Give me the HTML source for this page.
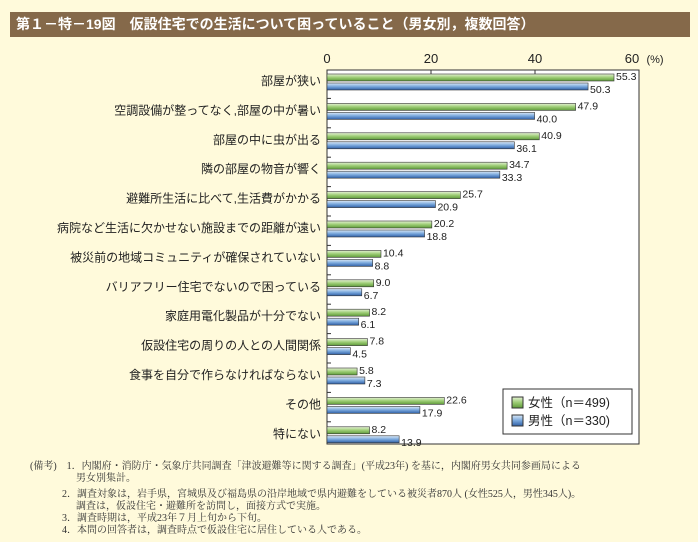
<!DOCTYPE html><html><head><meta charset="utf-8"><style>
body{margin:0;width:698px;height:542px;background:#fffadb;font-family:"Liberation Sans","Noto Sans CJK JP",sans-serif;position:relative;overflow:hidden}
.hd{position:absolute;left:10px;top:12px;width:680px;height:25px;background:#85694a;color:#fff;font-size:14px;font-weight:bold;line-height:25px;text-indent:6px}
.n{position:absolute;left:30px;font-size:10px;color:#333;white-space:nowrap;font-family:"Liberation Serif","Noto Serif CJK SC",serif}
</style></head><body>
<div class="hd">第１－特－19図　仮設住宅での生活について困っていること（男女別，複数回答）</div>
<svg width="698" height="542" style="position:absolute;left:0;top:0">
<defs>
<linearGradient id="g" x1="0" y1="0" x2="0" y2="1"><stop offset="0" stop-color="#e6f3d6"/><stop offset=".5" stop-color="#9ccc74"/><stop offset="1" stop-color="#5e9a3a"/></linearGradient>
<linearGradient id="b" x1="0" y1="0" x2="0" y2="1"><stop offset="0" stop-color="#dceaf8"/><stop offset=".5" stop-color="#7aa8dc"/><stop offset="1" stop-color="#2f5fa6"/></linearGradient>
</defs>
<rect x="327" y="70" width="312" height="374" fill="#fff" stroke="#333" stroke-width="1"/>
<g font-size="13" fill="#222" text-anchor="middle"><text x="327" y="63">0</text><text x="431" y="63">20</text><text x="535" y="63">40</text><text x="632" y="63">60</text><text x="655" y="63" font-size="11">(%)</text></g>
<g stroke="#333"><line x1="431" y1="70" x2="431" y2="74"/><line x1="535" y1="70" x2="535" y2="74"/></g>
<g id="bars" font-size="10.5" fill="#222"></g>
<rect x="503" y="389" width="129" height="45" fill="#fff" stroke="#333"/>
<rect x="512" y="397" width="11" height="11" fill="url(#g)" stroke="#333"/>
<rect x="512" y="415" width="11" height="11" fill="url(#b)" stroke="#333"/>
<g font-size="12.5" fill="#222"><text x="528" y="407">女性（n＝499)</text><text x="528" y="425">男性（n＝330)</text></g>
</svg>
<div class="n" style="top:457px">(備考)　1．内閣府・消防庁・気象庁共同調査「津波避難等に関する調査」(平成23年) を基に，内閣府男女共同参画局による</div>
<div class="n" style="top:469px;left:76px">男女別集計。</div>
<div class="n" style="top:485px;left:62px">2．調査対象は，岩手県，宮城県及び福島県の沿岸地域で県内避難をしている被災者870人 (女性525人，男性345人)。</div>
<div class="n" style="top:497px;left:76px">調査は，仮設住宅・避難所を訪問し，面接方式で実施。</div>
<div class="n" style="top:509px;left:62px">3．調査時期は，平成23年７月上旬から下旬。</div>
<div class="n" style="top:521px;left:62px">4．本問の回答者は，調査時点で仮設住宅に居住している人である。</div>
<script>
var d=[["部屋が狭い",55.3,50.3],["空調設備が整ってなく,部屋の中が暑い",47.9,40.0],["部屋の中に虫が出る",40.9,36.1],["隣の部屋の物音が響く",34.7,33.3],["避難所生活に比べて,生活費がかかる",25.7,20.9],["病院など生活に欠かせない施設までの距離が遠い",20.2,18.8],["被災前の地域コミュニティが確保されていない",10.4,8.8],["バリアフリー住宅でないので困っている",9.0,6.7],["家庭用電化製品が十分でない",8.2,6.1],["仮設住宅の周りの人との人間関係",7.8,4.5],["食事を自分で作らなければならない",5.8,7.3],["その他",22.6,17.9],["特にない",8.2,13.9]];
var s="",k=5.19;
d.forEach(function(r,i){var y=74+i*29.4;
s+='<rect x="327" y="'+y+'" width="'+r[1]*k+'" height="7" fill="url(#g)" stroke="#333" stroke-width=".6"/>';
s+='<rect x="327" y="'+(y+9)+'" width="'+r[2]*k+'" height="7" fill="url(#b)" stroke="#333" stroke-width=".6"/>';
s+='<text x="'+(329+r[1]*k)+'" y="'+(y+6)+'">'+r[1].toFixed(1)+'</text>';
s+='<text x="'+(329+r[2]*k)+'" y="'+(y+19)+'">'+r[2].toFixed(1)+'</text>';
s+='<text x="321" y="'+(y+11)+'" font-size="12" text-anchor="end">'+r[0]+'</text>';
if(i>0)s+='<line x1="327" y1="'+(y-5)+'" x2="331" y2="'+(y-5)+'" stroke="#333"/>';});
document.getElementById("bars").innerHTML=s;
</script>
</body></html>
